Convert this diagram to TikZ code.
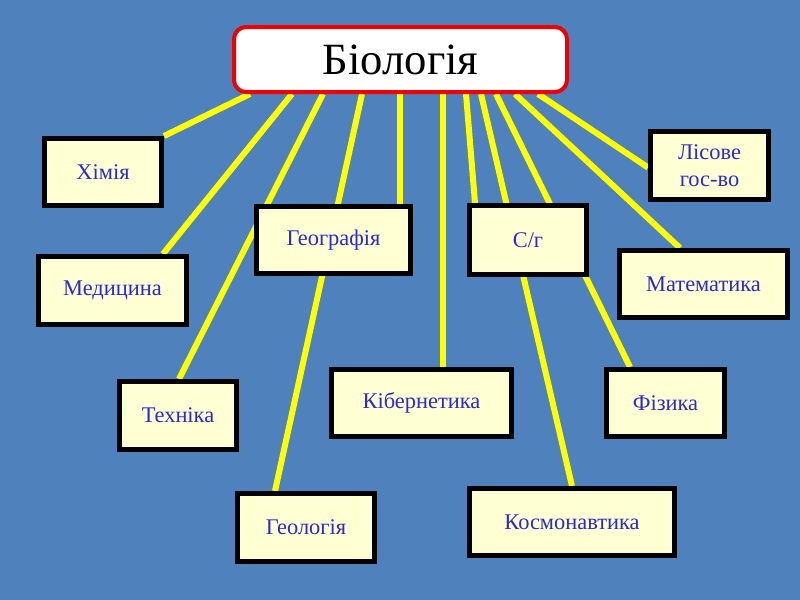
\documentclass[tikz,border=0pt]{standalone}
\usepackage{fontspec}
\setmainfont{Liberation Serif}
\usetikzlibrary{backgrounds}
\newdimen\pxu \pxu=0.75pt
\definecolor{bgblue}{HTML}{4F81BD}
\definecolor{boxfill}{HTML}{FFFFD4}
\definecolor{txtblue}{HTML}{2A2AD0}
\definecolor{linkyellow}{HTML}{FFFF00}
\definecolor{bordred}{HTML}{EE0000}
\tikzset{
  subj/.style={draw=black, line width=5\pxu, fill=boxfill, text=txtblue,
    font=\fontsize{16.8}{20}\selectfont, align=center, inner sep=0pt},
  mainbox/.style={draw=bordred, line width=4\pxu, fill=white, rounded corners=12\pxu,
    font=\fontsize{33.5}{38}\selectfont, inner sep=0pt,
    minimum width=333\pxu, minimum height=65\pxu},
  link/.style={draw=linkyellow, line width=6\pxu}
}
\begin{document}
\begin{tikzpicture}[x=0.75pt,y=-0.75pt]
\useasboundingbox (0,0) rectangle (800,600);
\node[mainbox] (bio) at (400.5,59.5) {Біологія};
\node[subj, minimum width=117\pxu, minimum height=67\pxu] (chem) at (103,172) {Хімія};
\node[subj, minimum width=148\pxu, minimum height=68\pxu] (med) at (112.5,290.5) {Медицина};
\node[subj, minimum width=154\pxu, minimum height=67\pxu] (geo) at (333.5,240) {Географія};
\node[subj, minimum width=117\pxu, minimum height=69\pxu] (sg) at (528,240) {С/г};
\node[subj, minimum width=118\pxu, minimum height=68\pxu] (forest) at (709.5,165.5) {Лісове\\гос-во};
\node[subj, minimum width=168\pxu, minimum height=67\pxu] (math) at (703.5,284) {Математика};
\node[subj, minimum width=117\pxu, minimum height=68\pxu] (tech) at (178,415.5) {Техніка};
\node[subj, minimum width=137\pxu, minimum height=68\pxu] (geol) at (306,527.5) {Геологія};
\node[subj, minimum width=180\pxu, minimum height=67\pxu] (cyb) at (421.5,403) {Кібернетика};
\node[subj, minimum width=118\pxu, minimum height=67\pxu] (phys) at (665.5,403) {Фізика};
\node[subj, minimum width=205\pxu, minimum height=67\pxu] (cosmo) at (572,522) {Космонавтика};
\coordinate (s1) at (250,94);
\coordinate (s2) at (292,94);
\coordinate (s3) at (323,94);
\coordinate (s4) at (362,94);
\coordinate (s5) at (400,94);
\coordinate (s6) at (443,94);
\coordinate (s7) at (466,94);
\coordinate (s8) at (481,94);
\coordinate (s9) at (496,94);
\coordinate (s10) at (515,94);
\coordinate (s11) at (538,94);
\begin{pgfonlayer}{background}
\fill[bgblue] (0,0) rectangle (800,600);
\draw[link] (s1) -- (chem.north east);
\draw[link] (s2) -- ([xshift=50.5\pxu]med.north);
\draw[link] (s3) -- ([xshift=1\pxu]tech.north);
\draw[link] (s4) -- ([xshift=-31\pxu]geol.north);
\draw[link] (s5) -- (s5 |- geo.north);
\draw[link] (s6) -- (s6 |- cyb.north);
\draw[link] (s7) -- ([xshift=-53\pxu]sg.north);
\draw[link] (s8) -- (cosmo.north);
\draw[link] (s9) -- ([xshift=-35.5\pxu]phys.north);
\draw[link] (s10) -- ([xshift=-23.5\pxu]math.north);
\draw[link] (s11) -- ([yshift=-2\pxu]forest.west);
\end{pgfonlayer}
\end{tikzpicture}
\end{document}
